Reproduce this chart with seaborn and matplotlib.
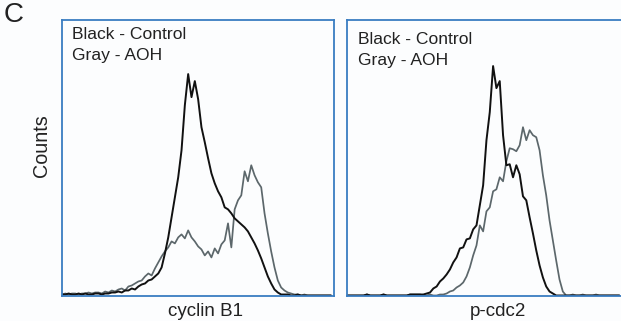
import numpy as np
import pandas as pd
import seaborn as sns
import matplotlib.pyplot as plt

# Flow cytometry histograms: counts per fluorescence channel bin
BIN_WIDTH = 12.5  # channels per bin

cyclin_control = [1, 1, 2, 1, 1, 2, 1, 2, 1, 1, 2, 2, 1, 2, 2, 3,
                  3, 4, 3, 5, 5, 7, 6, 9, 11, 12, 15, 16, 19, 22, 28,
                  42, 58, 78, 98, 118, 145, 190,
                  221, 198, 214, 196, 168, 153, 137, 122,
                  112, 104, 98, 88, 86, 82, 77, 74, 71, 68, 64, 58, 52, 45, 37, 28,
                  19, 12, 6, 3, 1, 1, 1, 0,
                  0, 1, 0, 0, 0, 0, 0, 0, 0, 0, 0, 0]
cyclin_aoh = [1, 2, 1, 2, 2, 1, 2, 2, 3, 2, 3, 3, 2, 4, 3, 5,
              4, 6, 7, 5, 9, 10, 12, 14, 15, 19, 22, 20, 27, 33, 39,
              44, 48, 54, 52, 58, 61, 57, 65, 58, 54, 49,
              46, 40, 44, 38, 47, 42, 51, 55,
              72, 48, 86, 95, 100, 124, 114, 130, 120, 113, 108,
              82, 62, 44, 28, 15, 8, 5, 3, 2,
              1, 1, 0, 1, 0, 0, 0, 0, 0, 0, 0, 0]

cdc2_control = [0, 0, 0, 0, 0, 0, 1, 0, 0, 0, 0, 1, 0, 0, 0, 0, 0, 0, 0, 1, 1, 1, 1,
                1, 2, 3, 7, 9, 14, 17, 21, 26, 33, 38, 47, 48, 56, 57, 66, 70, 90,
                110, 155, 183, 229, 207, 214, 160,
                130, 131, 118, 130, 121, 99, 95, 78, 62, 45, 30, 18, 9, 4, 2, 0,
                0, 0, 0, 0, 0, 0, 0, 0, 0, 0, 0, 0, 0, 0, 0, 0, 0, 0, 0]
cdc2_aoh = [0, 0, 0, 0, 0, 0, 1, 0, 0, 0, 0, 1, 0, 0, 0, 0, 0, 0, 0, 1, 1, 1, 1, 0, 0, 1, 0,
            0, 1, 1, 2, 4, 5, 8, 10, 13, 19,
            28, 40, 50, 70, 64, 84, 88, 104, 106, 118, 114, 134, 147, 146, 144,
            150, 168, 155, 165, 160, 158, 145, 120, 100, 75, 55, 35, 16, 4, 0,
            0, 1, 0, 0, 1, 0, 0, 0, 1, 0, 0, 0, 0, 0, 0, 0]

panels = [
    ("cyclin B1", cyclin_control, cyclin_aoh),
    ("p-cdc2", cdc2_control, cdc2_aoh),
]
legend_lines = ["Black - Control", "Gray - AOH"]
palette = {"AOH": "#5c676b", "Control": "#111111"}

sns.set_theme(style="white")
plt.rcParams["font.family"] = ["Liberation Sans", "DejaVu Sans"]

W, H = 621, 321
fig = plt.figure(figsize=(W / 100, H / 100), dpi=100, facecolor="#fcfdfe")

def fx(px):
    return px / W

def fy(py):
    return 1 - py / H

axes_px = [(62, 334, 1024.0), (347, 623, 1024.0 * 276 / 272)]
spine_color = "#3a7dc2"

for (label, control, aoh), (x0, x1, xmax) in zip(panels, axes_px):
    ax = fig.add_axes([fx(x0), fy(296), fx(x1 - x0), (296 - 20) / H])
    ax.set_facecolor("#fcfdfe")
    rows = []
    for name, counts in (("AOH", aoh), ("Control", control)):
        ch = np.arange(len(counts)) * BIN_WIDTH
        rows.append(pd.DataFrame({"channel": ch, "count": counts, "sample": name}))
    df = pd.concat(rows, ignore_index=True)
    for name, lw in (("AOH", 1.25), ("Control", 1.4)):
        sns.lineplot(data=df[df["sample"] == name], x="channel", y="count",
                     color=palette[name], linewidth=lw, ax=ax, legend=False,
                     estimator=None, sort=True)
    ax.set_xlim(0, xmax)
    ax.set_ylim(-0.5, 275)
    ax.set_xticks([])
    ax.set_yticks([])
    ax.set_xlabel("")
    ax.set_ylabel("")
    for s in ax.spines.values():
        s.set_color(spine_color)
        s.set_linewidth(1.3)

# panel annotations
fig.text(fx(72), fy(39), legend_lines[0], fontsize=12.6, color="#222222", va="baseline")
fig.text(fx(72), fy(60), legend_lines[1], fontsize=12.6, color="#222222", va="baseline")
fig.text(fx(358), fy(44), legend_lines[0], fontsize=12.6, color="#222222", va="baseline")
fig.text(fx(358), fy(65), legend_lines[1], fontsize=12.6, color="#222222", va="baseline")

fig.text(fx(206), fy(316), panels[0][0], fontsize=13.5, color="#222222",
         ha="center", va="baseline")
fig.text(fx(498), fy(316), panels[1][0], fontsize=13.5, color="#222222",
         ha="center", va="baseline")
fig.text(fx(42), fy(146), "Counts", fontsize=14.2, color="#222222",
         ha="center", va="center", rotation=90)
fig.text(fx(4), fy(22), "C", fontsize=20, color="#222222", va="baseline")

fig.savefig("out.png", dpi=100, facecolor=fig.get_facecolor())
